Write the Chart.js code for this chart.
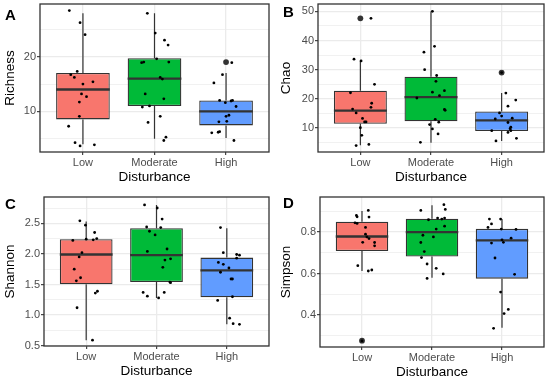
<!DOCTYPE html>
<html>
<head>
<meta charset="utf-8">
<script src="https://cdn.jsdelivr.net/npm/chart.js@4"></script>
<style>
  body { margin: 0; background: #fff; }
  #wrap { position: relative; width: 550px; height: 381px; overflow: hidden; }
  canvas { position: absolute; }
  .tag { position: absolute; font: bold 15px "Liberation Sans", Arial, sans-serif; line-height: 15px; color: #000; }
</style>
</head>
<body>
<div id="wrap">
  <canvas id="chartA" width="275" height="190" style="left:0;top:0"></canvas>
  <canvas id="chartB" width="275" height="190" style="left:275px;top:0"></canvas>
  <canvas id="chartC" width="275" height="191" style="left:0;top:190px"></canvas>
  <canvas id="chartD" width="275" height="191" style="left:275px;top:190px"></canvas>
  <div class="tag" style="left:5px;top:7px">A</div>
  <div class="tag" style="left:283px;top:4px">B</div>
  <div class="tag" style="left:5px;top:196px">C</div>
  <div class="tag" style="left:283px;top:195px">D</div>
</div>
<script>
// groups on the x axis and their fill colours
const groups = ['Low', 'Moderate', 'High'];
const fillColors = ['#F8766D', '#00BA38', '#619CFF'];

// Richness: jittered observations, x jitter (in group units) and box stats
const richnessValues = [
  [28.4, 26.2, 24.0, 16.7, 17.3, 16.2, 15.0, 15.4, 13.2, 12.7, 11.7, 9.1, 7.3, 4.3, 3.7, 3.9],
  [27.9, 24.3, 23.0, 22.1, 18.9, 19.0, 19.6, 19.0, 16.2, 15.9, 13.2, 12.3, 10.8, 11.0, 9.1, 8.0, 5.3, 4.7],
  [18.9, 16.7, 15.2, 12.0, 11.6, 11.9, 12.0, 10.9, 9.3, 9.1, 8.2, 8.1, 6.1, 6.2, 6.3, 4.7]
];
const richnessJitter = [
  [-0.19, -0.04, 0.03, -0.17, -0.08, -0.12, 0.00, 0.14, -0.02, 0.05, -0.05, -0.05, -0.20, -0.11, -0.04, 0.16],
  [-0.10, 0.01, 0.14, 0.19, -0.18, -0.15, 0.03, 0.20, 0.08, 0.11, -0.13, 0.13, -0.17, -0.07, 0.08, -0.09, 0.16, 0.13],
  [0.08, -0.05, -0.17, -0.09, -0.01, 0.07, 0.09, 0.14, 0.04, 0.00, 0.01, -0.10, -0.20, -0.11, -0.09, 0.11]
];
const richnessLow = [4.0, 5.0, 5.15];
const richnessQ1 = [8.55, 11.0, 7.45];
const richnessMedian = [14.0, 16.0, 10.0];
const richnessQ3 = [17.0, 19.7, 12.0];
const richnessHigh = [27.9, 27.9, 17.0];
const richnessOutliers = [[], [], [19.0]];
const richnessMajor = [10, 20];
const richnessMinor = [5, 15, 25];

// Chao
const chaoValues = [
  [47.6, 33.6, 33.0, 25.0, 22.1, 16.5, 15.2, 18.5, 17.1, 13.3, 12.1, 12.1, 10.1, 7.5, 4.0, 4.4],
  [50.0, 38.0, 36.0, 30.0, 28.0, 26.0, 22.3, 22.8, 21.1, 20.3, 16.4, 16.1, 13.0, 12.0, 11.2, 9.7, 8.0, 5.1],
  [29.0, 22.0, 19.6, 17.5, 15.2, 14.1, 13.1, 13.4, 11.9, 10.3, 9.8, 9.1, 9.1, 8.5, 5.6, 6.5]
];
const chaoJitter = [
  [0.15, -0.09, 0.01, 0.20, -0.14, -0.11, -0.06, 0.16, 0.15, 0.03, 0.06, 0.08, 0.00, 0.02, -0.06, 0.12],
  [0.02, 0.05, -0.10, -0.09, 0.08, 0.07, 0.02, 0.19, 0.12, -0.20, 0.19, 0.20, 0.06, 0.11, -0.02, 0.02, 0.10, -0.15],
  [0.00, 0.06, 0.20, 0.09, -0.03, 0.00, -0.09, 0.15, 0.09, 0.13, 0.12, 0.13, -0.14, 0.09, -0.08, 0.21]
];
const chaoLow = [4.1, 5.0, 5.55];
const chaoQ1 = [11.5, 12.3, 8.97];
const chaoMedian = [16.0, 20.6, 12.6];
const chaoQ3 = [22.8, 27.6, 15.7];
const chaoHigh = [33.1, 50.0, 22.0];
const chaoOutliers = [[47.6], [], [29.0]];
const chaoMajor = [10, 20, 30, 40, 50];
const chaoMinor = [5, 15, 25, 35, 45];

// Shannon
const shannonValues = [
  [2.54, 2.47, 2.35, 2.24, 2.23, 2.25, 2.22, 2.02, 1.95, 1.75, 1.61, 1.56, 1.39, 1.36, 1.12, 0.59],
  [2.80, 2.75, 2.57, 2.44, 2.43, 2.37, 2.31, 2.04, 2.08, 1.90, 1.92, 1.78, 1.54, 1.53, 1.37, 1.37, 1.31, 1.28],
  [2.43, 2.02, 1.99, 1.98, 1.93, 1.86, 1.83, 1.77, 1.70, 1.59, 1.59, 1.30, 1.24, 0.95, 0.86, 0.85]
];
const shannonJitter = [
  [-0.09, -0.01, 0.12, 0.00, 0.10, 0.15, -0.19, -0.06, -0.10, -0.17, -0.08, -0.14, 0.16, 0.13, -0.13, 0.09],
  [-0.17, 0.01, 0.08, -0.14, 0.06, -0.10, -0.02, -0.13, 0.15, 0.12, 0.20, 0.09, 0.19, 0.20, -0.19, 0.11, -0.13, 0.03],
  [-0.09, -0.05, 0.14, 0.18, 0.14, -0.12, -0.05, 0.03, -0.09, 0.06, 0.08, 0.08, -0.13, 0.04, 0.09, 0.18]
];
const shannonLow = [0.59, 1.28, 0.85];
const shannonQ1 = [1.505, 1.54, 1.29];
const shannonMedian = [1.99, 1.98, 1.73];
const shannonQ3 = [2.24, 2.42, 1.94];
const shannonHigh = [2.53, 2.80, 2.42];
const shannonOutliers = [[], [], []];
const shannonMajor = [0.5, 1.0, 1.5, 2.0, 2.5];
const shannonMinor = [0.75, 1.25, 1.75, 2.25, 2.75];

// Simpson
const simpsonValues = [
  [0.905, 0.881, 0.874, 0.873, 0.845, 0.842, 0.823, 0.790, 0.777, 0.769, 0.750, 0.734, 0.751, 0.638, 0.612, 0.617, 0.274],
  [0.933, 0.910, 0.905, 0.868, 0.868, 0.860, 0.863, 0.815, 0.829, 0.785, 0.777, 0.750, 0.706, 0.677, 0.646, 0.625, 0.598, 0.576],
  [0.863, 0.863, 0.840, 0.823, 0.815, 0.813, 0.771, 0.763, 0.751, 0.747, 0.675, 0.596, 0.510, 0.426, 0.406, 0.335]
];
const simpsonJitter = [
  [0.09, -0.08, -0.07, 0.10, -0.10, -0.07, 0.05, 0.05, 0.07, 0.10, 0.18, 0.18, 0.01, -0.06, 0.09, 0.14, 0.00],
  [0.17, 0.19, -0.16, 0.08, 0.18, -0.05, 0.14, 0.06, 0.18, -0.13, 0.02, -0.16, -0.11, -0.15, -0.07, 0.06, 0.16, -0.07],
  [-0.18, -0.02, -0.15, -0.20, -0.01, 0.20, 0.13, 0.00, 0.02, -0.15, -0.10, 0.18, -0.02, 0.09, 0.03, -0.12]
];
const simpsonLow = [0.612, 0.58, 0.338];
const simpsonQ1 = [0.709, 0.682, 0.575];
const simpsonMedian = [0.779, 0.80, 0.760];
const simpsonQ3 = [0.850, 0.865, 0.816];
const simpsonHigh = [0.902, 0.930, 0.863];
const simpsonOutliers = [[0.275], [], []];
const simpsonMajor = [0.4, 0.6, 0.8];
const simpsonMinor = [0.3, 0.5, 0.7, 0.9];

Chart.defaults.font.family = '"Liberation Sans", Arial, sans-serif';

const BOX_HALF = 0.375;   // half box width in group units
const X_AXIS_H = 34;      // height reserved under the plot for labels + title

function isOn(list, v) {
  return list.some(m => Math.abs(m - v) < 1e-6);
}

// draws the panel border (theme_bw style)
const framePlugin = {
  id: 'frame',
  afterDatasetsDraw(chart) {
    const { ctx, chartArea: a } = chart;
    ctx.save();
    ctx.strokeStyle = '#333333';
    ctx.lineWidth = 1.3;
    ctx.strokeRect(a.left, a.top, a.right - a.left, a.bottom - a.top);
    ctx.restore();
  }
};

function makePanel(canvasId, p) {
  const canvas = document.getElementById(canvasId);
  const W = canvas.width, H = canvas.height;
  const allTicks = p.major.concat(p.minor).sort((a, b) => a - b);

  // box bodies as floating bars
  const boxData = groups.map((g, i) => ({ x: i + 1, y: [p.q1[i], p.q3[i]] }));

  // whiskers: two vertical segments per group, broken with nulls
  const whiskerData = [];
  groups.forEach((g, i) => {
    whiskerData.push(
      { x: i + 1, y: p.hi[i] }, { x: i + 1, y: p.q3[i] }, { x: i + 1, y: null },
      { x: i + 1, y: p.q1[i] }, { x: i + 1, y: p.lo[i] }, { x: i + 1, y: null }
    );
  });

  // median bars
  const medianData = [];
  groups.forEach((g, i) => {
    medianData.push(
      { x: i + 1 - BOX_HALF, y: p.med[i] },
      { x: i + 1 + BOX_HALF, y: p.med[i] },
      { x: i + 1 + BOX_HALF, y: null }
    );
  });

  const outlierData = [];
  p.out.forEach((list, i) => list.forEach(v => outlierData.push({ x: i + 1, y: v })));

  const pointData = [];
  p.values.forEach((list, i) => list.forEach((v, j) => pointData.push({ x: i + 1 + p.jitter[i][j], y: v })));

  return new Chart(canvas.getContext('2d'), {
    type: 'bar',
    data: {
      datasets: [
        { type: 'scatter', data: pointData, order: 0, pointRadius: 1.4, pointBackgroundColor: '#000', pointBorderWidth: 0 },
        { type: 'scatter', data: outlierData, order: 1, pointRadius: 2.9, pointBackgroundColor: '#333333', pointBorderWidth: 0 },
        { type: 'line', data: medianData, order: 2, borderColor: '#333333', borderWidth: 2.3, pointRadius: 0, spanGaps: false, borderCapStyle: 'butt' },
        { type: 'line', data: whiskerData, order: 3, borderColor: '#333333', borderWidth: 1.2, pointRadius: 0, spanGaps: false },
        {
          type: 'bar', data: boxData, order: 4,
          backgroundColor: fillColors, borderColor: '#333333', borderWidth: 1.3, borderSkipped: false,
          barPercentage: BOX_HALF * 2, categoryPercentage: 1
        }
      ]
    },
    options: {
      responsive: false,
      animation: false,
      events: [],
      layout: { padding: { left: 0, top: p.top, right: W - p.right, bottom: H - p.bottom - X_AXIS_H } },
      plugins: { legend: { display: false }, tooltip: { enabled: false } },
      scales: {
        x: {
          type: 'linear', min: 0.4, max: 3.6, offset: false,
          grid: { offset: false, color: '#EBEBEB', lineWidth: 1.3, tickColor: '#333333', tickLength: 3, tickWidth: 1.1 },
          border: { display: false },
          afterBuildTicks: s => { s.ticks = groups.map((g, i) => ({ value: i + 1 })); },
          ticks: {
            callback: v => groups[Math.round(v) - 1],
            color: '#4D4D4D', font: { size: 11 }, padding: 1.5, autoSkip: false, maxRotation: 0
          },
          title: { display: true, text: 'Disturbance', color: '#000', font: { size: 13.5 }, padding: { top: 0, bottom: 1 } },
          afterFit: s => { s.height = X_AXIS_H; s.paddingLeft = 0; s.paddingRight = 0; }
        },
        y: {
          type: 'linear', min: p.min, max: p.max, beginAtZero: false,
          grid: {
            color: '#EBEBEB',
            lineWidth: c => (c.tick && !isOn(p.major, c.tick.value)) ? 0.7 : 1.3,
            tickColor: c => (c.tick && !isOn(p.major, c.tick.value)) ? 'rgba(0,0,0,0)' : '#333333',
            tickLength: 3, tickWidth: 1.1
          },
          border: { display: false },
          afterBuildTicks: s => { s.ticks = allTicks.map(v => ({ value: v })); },
          ticks: {
            callback: v => isOn(p.major, v) ? v.toFixed(p.digits) : '',
            color: '#4D4D4D', font: { size: 11 }, padding: 1, autoSkip: false
          },
          title: { display: true, text: p.title, color: '#000', font: { size: 13.5 }, padding: { top: p.titlePad, bottom: 0 } },
          afterFit: s => { s.width = p.left; s.paddingTop = 0; s.paddingBottom = 0; }
        }
      }
    },
    plugins: [framePlugin]
  });
}

makePanel('chartA', {
  title: 'Richness', values: richnessValues, jitter: richnessJitter,
  lo: richnessLow, q1: richnessQ1, med: richnessMedian, q3: richnessQ3, hi: richnessHigh, out: richnessOutliers,
  major: richnessMajor, minor: richnessMinor, digits: 0, min: 2.6, max: 29.6,
  left: 40, right: 269, top: 3, bottom: 152, titlePad: 2
});
makePanel('chartB', {
  title: 'Chao', values: chaoValues, jitter: chaoJitter,
  lo: chaoLow, q1: chaoQ1, med: chaoMedian, q3: chaoQ3, hi: chaoHigh, out: chaoOutliers,
  major: chaoMajor, minor: chaoMinor, digits: 0, min: 1.8, max: 52.5,
  left: 43, right: 269, top: 3, bottom: 152, titlePad: 3.5
});
makePanel('chartC', {
  title: 'Shannon', values: shannonValues, jitter: shannonJitter,
  lo: shannonLow, q1: shannonQ1, med: shannonMedian, q3: shannonQ3, hi: shannonHigh, out: shannonOutliers,
  major: shannonMajor, minor: shannonMinor, digits: 1, min: 0.495, max: 2.93,
  left: 44, right: 269, top: 7, bottom: 156, titlePad: 2
});
makePanel('chartD', {
  title: 'Simpson', values: simpsonValues, jitter: simpsonJitter,
  lo: simpsonLow, q1: simpsonQ1, med: simpsonMedian, q3: simpsonQ3, hi: simpsonHigh, out: simpsonOutliers,
  major: simpsonMajor, minor: simpsonMinor, digits: 1, min: 0.2445, max: 0.970,
  left: 45, right: 269, top: 7, bottom: 157, titlePad: 3.5
});
</script>
</body>
</html>
